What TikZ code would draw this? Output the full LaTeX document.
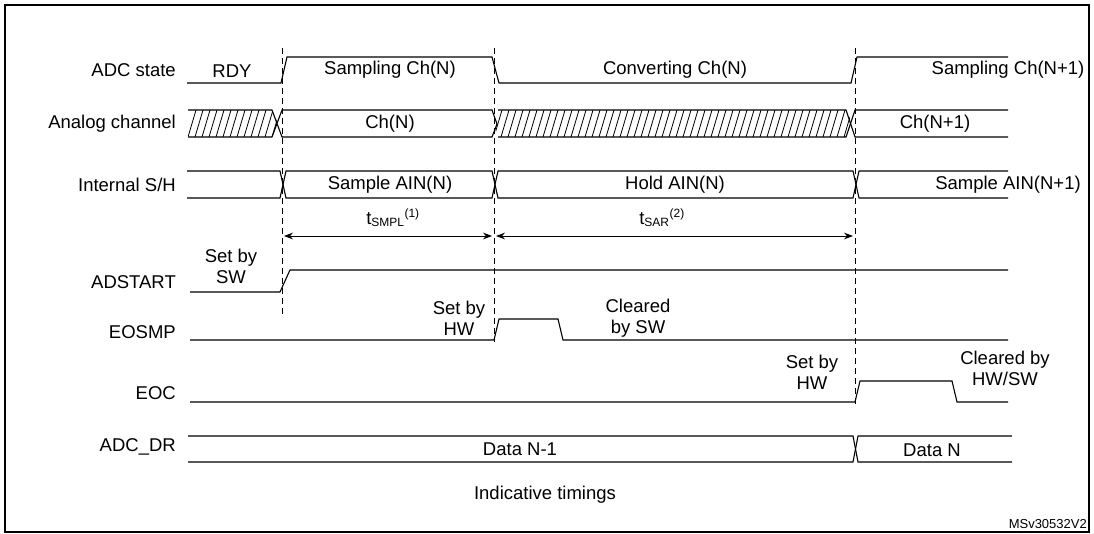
\documentclass[tikz,border=0pt]{standalone}
\usepackage{fontspec}
\setmainfont{Liberation Sans}
\usetikzlibrary{arrows.meta}
\begin{document}
\begin{tikzpicture}[x=1pt,y=-1pt,
  sig/.style={draw,line width=1.1pt},
  instant/.style={draw,line width=0.9pt,dash pattern=on 6pt off 4pt},
  txt/.style={font=\fontsize{18.5}{21}\selectfont,inner sep=0pt},
  signame/.style={txt,anchor=east},
  note/.style={txt,align=center}]
\useasboundingbox (0,0) rectangle (1094,533);
\draw[line width=1.2pt] (5,5) rectangle (1089,532);

% instants
\path[instant] (282,48) -- (282,316);
\path[instant] (494,48) -- (494,342);
\path[instant] (855,48) -- (855,404);

% signal names
\node[signame] (nstate) at (176,70) {ADC state};
\node[signame] (nchan) at (176,124) {Analog channel};
\node[signame] (nsh) at (176,185) {Internal S/H};
\node[signame] (nstart) at (176,282) {ADSTART};
\node[signame] (neosmp) at (176,332) {EOSMP};
\node[signame] (neoc) at (176,393) {EOC};
\node[signame] (ndr) at (176,447) {ADC\_DR};

% ADC state
\path[sig] (187,83) -- (281,83) -- (287,57) -- (492,57) -- (499,83) -- (851,83) -- (857,57) -- (1008,57);
\node[txt] (rdy) at (232,71) {RDY};
\node[txt] (smp) at (390,70) {Sampling Ch(N)};
\node[txt] (cnv) at (675,70) {Converting Ch(N)};
\node[txt] (smp2) at (1008,70) {Sampling Ch(N+1)};

% analog channel
\begin{scope}
\clip (188,110) -- (272,110) -- (279,124) -- (272,137) -- (188,137) -- cycle;
\foreach \i in {0,...,13} \draw[line width=0.8pt] (188+\i*7,137) -- (196+\i*7,110);
\end{scope}
\begin{scope}
\clip (498,110) -- (846,110) -- (853,124) -- (846,137) -- (498,137) -- (493,124) -- cycle;
\foreach \i in {0,...,52} \draw[line width=0.8pt] (494+\i*7,137) -- (502+\i*7,110);
\end{scope}
\path[sig] (188,110) -- (272,110) -- (282,137) -- (492,137) -- (497,124) -- (492,110) -- (282,110) -- (272,137) -- (188,137);
\path[sig] (498,110) -- (846,110) -- (855,137) -- (1008,137);
\path[sig] (498,137) -- (846,137) -- (855,110) -- (1008,110);
\node[txt] (chn) at (390,124) {Ch(N)};
\node[txt] (chn1) at (935,124) {Ch(N+1)};

% internal S/H
\path[sig] (187,171) -- (280,171) -- (286,198) -- (492,198) -- (498,171) -- (853,171) -- (859,198) -- (1008,198);
\path[sig] (187,198) -- (280,198) -- (286,171) -- (492,171) -- (498,198) -- (853,198) -- (859,171) -- (1008,171);
\node[txt] (sam) at (390,185) {Sample AIN(N)};
\node[txt] (hold) at (675,185) {Hold AIN(N)};
\node[txt] (sam2) at (1008,185) {Sample AIN(N+1)};

% durations
\draw[line width=1pt,{Stealth[length=9pt]}-{Stealth[length=9pt]}] (284,236) -- (492,236);
\draw[line width=1pt,{Stealth[length=9pt]}-{Stealth[length=9pt]}] (496,236) -- (853,236);
\node[txt] (tsmpl) at (393,218) {t\textsubscript{\fontsize{12}{12}\selectfont SMPL}\textsuperscript{\fontsize{12}{12}\selectfont (1)}};
\node[txt] (tsar) at (662,218) {t\textsubscript{\fontsize{12}{12}\selectfont SAR}\textsuperscript{\fontsize{12}{12}\selectfont (2)}};

% flags
\path[sig] (190,292) -- (280,292) -- (290,270) -- (1008,270);
\node[note] (setsw) at (231,266) {Set by\\SW};
\path[sig] (190,340) -- (494,340) -- (499,319) -- (558,319) -- (563,340) -- (1008,340);
\node[note] (sethw) at (459,318) {Set by\\HW};
\node[note] (clrsw) at (638,318) {Cleared\\by SW};
\path[sig] (190,402) -- (855,402) -- (860,381) -- (952,381) -- (957,402) -- (1008,402);
\node[note] (sethw2) at (812,372) {Set by\\HW};
\node[note] (clrhw) at (1005,368) {Cleared by\\HW/SW};

% data register
\path[sig] (188,436) -- (853,436) -- (858,462) -- (1012,462);
\path[sig] (188,462) -- (853,462) -- (858,436) -- (1012,436);
\node[txt] (dn1) at (520,449) {Data N-1};
\node[txt] (dn) at (932,450) {Data N};

\node[txt] (ind) at (545,495) {Indicative timings};
\node[txt,anchor=south east,font=\fontsize{13}{14}\selectfont] (ref) at (1087,529) {MSv30532V2};
\end{tikzpicture}
\end{document}
